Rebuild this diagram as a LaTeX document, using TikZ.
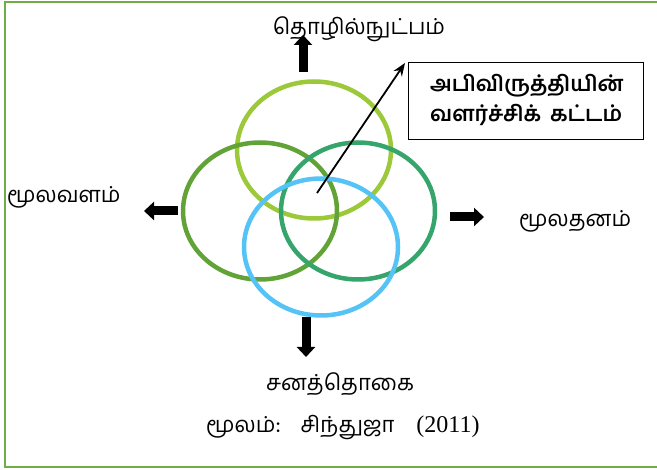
\documentclass[tikz,border=0pt]{standalone}
\usepackage{fontspec}
\newfontfamily\tamil[Script=Tamil]{Hind Madurai}
\newfontfamily\serifnum{Liberation Serif}
\usetikzlibrary{shapes.geometric,arrows.meta}
\definecolor{frameg}{HTML}{70AD47}
\definecolor{ctop}{HTML}{9BC93A}
\definecolor{cleft}{HTML}{62A338}
\definecolor{cright}{HTML}{36A56C}
\definecolor{cbot}{HTML}{55C3F5}
\begin{document}
\begin{tikzpicture}[x=1pt,y=-1pt,
  ring/.style={ellipse,draw,line width=4.5pt,minimum width=154pt,minimum height=137pt,inner sep=0pt},
  lbl/.style={font=\tamil\fontsize{22}{26}\selectfont,inner sep=0pt},
  boxtxt/.style={font=\tamil\bfseries\fontsize{21.5}{25}\selectfont,anchor=west,inner sep=0pt},
  blockarrow/.style={line width=9pt,-{Triangle[width=18pt,length=10pt]}},
  ]
\useasboundingbox (0,0) rectangle (657,470);
% frame
\draw[frameg,line width=2.5pt] (662,2) -- (5,2) -- (5,467) -- (662,467);
% rings
\node[ring,draw=ctop] (top) at (314,150) {};
\node[ring,draw=cleft] (left) at (260,211) {};
\node[ring,draw=cright] (right) at (358,211) {};
\node[ring,draw=cbot] (bot) at (321,247) {};
% labels
\node[lbl] (ltop) at (359,29) {தொழில்நுட்பம்};
\node[lbl,anchor=west] (lleft) at (7,197) {மூலவளம்};
\node[lbl,anchor=west] (lright) at (519,221) {மூலதனம்};
\node[lbl] (lbot) at (340,384) {சனத்தொகை};
\node[lbl,anchor=west] (src) at (206,428) {மூலம்:\hspace{20pt}சிந்துஜா\hspace{22pt}{\serifnum\fontsize{24}{26}\selectfont (2011)}};
% box
\node[draw,line width=1.2pt,minimum width=235pt,minimum height=77pt,anchor=north west,inner sep=0pt] (box) at (408,62) {};
\node[boxtxt] (b1) at (430,86) {அபிவிருத்தியின்};
\node[boxtxt] (b2) at (430,115) {வளர்ச்சிக்\hspace{9pt}கட்டம்};
% pointer arrow
\coordinate (c) at (317,193);
\draw[line width=1.8pt,-{Stealth[length=13pt,width=10pt]}] (c) -- ([shift={(-3,1)}]box.north west);
% block arrows
\coordinate (ua) at (303,72);
\coordinate (ub) at (303,35);
\draw[blockarrow] (ua) -- (ub);
\coordinate (la) at (178,211);
\coordinate (lb) at (144,211);
\draw[blockarrow] (la) -- (lb);
\coordinate (ra) at (450,217);
\coordinate (rb) at (484,217);
\draw[blockarrow] (ra) -- (rb);
\coordinate (da) at (306,317);
\coordinate (db) at (306,357);
\draw[blockarrow] (da) -- (db);
\end{tikzpicture}
\end{document}
